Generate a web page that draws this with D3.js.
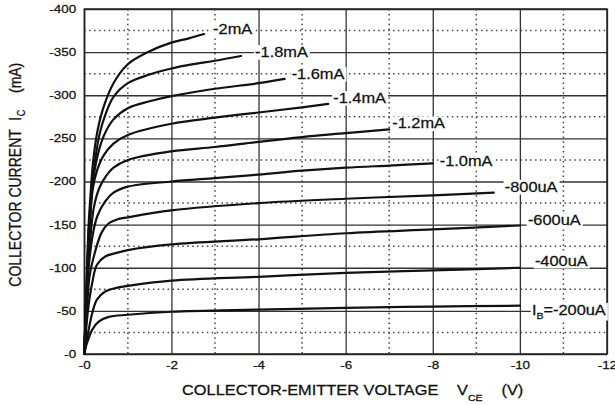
<!DOCTYPE html>
<html>
<head>
<meta charset="utf-8">
<script src="https://cdn.jsdelivr.net/npm/d3@7"></script>
<style>
  body { margin: 0; background: #fff; }
  text { font-family: "Liberation Sans", Arial, sans-serif; fill: #111; stroke: #111; stroke-width: 0.25px; }
</style>
</head>
<body>
<script>
// base current of each curve, top curve first
var baseCurrent = ["-2mA", "-1.8mA", "-1.6mA", "-1.4mA", "-1.2mA",
                   "-1.0mA", "-800uA", "-600uA", "-400uA", "-200uA"];

// [Vce (V), |Ic| (mA)] (Ic is negative on the chart)
var ib2000 = [[0,0],[-0.05,80],[-0.1,150],[-0.15,190],[-0.2,222],[-0.3,258],[-0.44,286],[-0.67,314],[-1,336],[-1.5,351],[-2,361],[-2.4,366],[-2.75,371]];
var ib1800 = [[0,0],[-0.05,75],[-0.1,140],[-0.17,190],[-0.25,225],[-0.33,250],[-0.44,271],[-0.67,298],[-1,314],[-1.5,324],[-2,331],[-2.5,336],[-3,340],[-3.6,345.5]];
var ib1600 = [[0,0],[-0.05,70],[-0.1,130],[-0.18,190],[-0.27,222],[-0.44,252],[-0.67,272],[-1,285],[-1.5,293],[-2,299],[-3,307.5],[-4,314],[-4.6,319]];
var ib1400 = [[0,0],[-0.05,65],[-0.1,120],[-0.19,190],[-0.3,214],[-0.44,230],[-0.67,244],[-1,254],[-2,267],[-3,274],[-4,280],[-5,286],[-5.6,290]];
var ib1200 = [[0,0],[-0.05,60],[-0.1,110],[-0.22,170],[-0.35,193],[-0.51,207],[-0.67,216],[-1,225],[-2,235],[-3,240],[-4,246],[-5,251.5],[-6,256],[-7,260.5]];
var ib1000 = [[0,0],[-0.05,55],[-0.1,100],[-0.2,140],[-0.3,160],[-0.48,177],[-0.67,187],[-1,194],[-2,200],[-3,204],[-4,208],[-5,212.5],[-6,216],[-7,218.5],[-8,221]];
var ib800  = [[0,0],[-0.06,50],[-0.12,90],[-0.25,119],[-0.4,141],[-0.55,151],[-0.75,156],[-1,158.5],[-2,166.5],[-4,175],[-6,180],[-8,184],[-9.4,187]];
var ib600  = [[0,0],[-0.085,51],[-0.18,82],[-0.29,103.5],[-0.48,113],[-0.72,117],[-1,120.5],[-2,127],[-4,133],[-6,140],[-8,144.5],[-10,149]];
var ib400  = [[0,0],[-0.085,24],[-0.18,47],[-0.29,63],[-0.48,72.5],[-0.72,76.5],[-1,79],[-2,85],[-4,89.5],[-6,94],[-8,97],[-10,100]];
var ib200  = [[0,0],[-0.04,9],[-0.085,16],[-0.18,28],[-0.33,37.5],[-0.56,43],[-1,45.5],[-2,49],[-4,51.5],[-6,53.5],[-8,55],[-10,56]];

var curves = [ib2000, ib1800, ib1600, ib1400, ib1200, ib1000, ib800, ib600, ib400, ib200];

// axis ticks (Ic given as magnitude, printed with a minus sign)
var vceTicks = [0, -2, -4, -6, -8, -10, -12];
var vceMinor = [-1, -3, -5, -7, -9, -11];
var icTicks = [0, 50, 100, 150, 200, 250, 300, 350, 400];
var icMinor = [25, 75, 125, 175, 225, 275, 325, 375];

// label nudge from the end of each curve, in px (layout only)
var labelNudge = [[9,-5],[14,-4],[7,-5],[5,-6],[3,-6],[7,-2],[11,-6],[8,-5],[15,-7],[12,4]];

var W = 615, H = 405;
var plotL = 84.3, plotR = 607, plotT = 9, plotB = 354;
var SX = 1.17; // the source glyphs are drawn wide

var svg = d3.select("body").append("svg")
    .attr("width", W)
    .attr("height", H);

var x = d3.scaleLinear().domain([0, -12]).range([plotL, plotR]);
var y = d3.scaleLinear().domain([0, 400]).range([plotB, plotT]);

var fmtV = function (d) { return d === 0 ? "-0" : String(d); };
var fmtI = function (d) { return "-" + d; };

// dotted minor grid
svg.append("g").selectAll("line").data(vceMinor).join("line")
    .attr("x1", x).attr("x2", x)
    .attr("y1", plotT).attr("y2", plotB)
    .attr("stroke", "#444").attr("stroke-width", 1.5)
    .attr("stroke-dasharray", "1.5,3.4");
svg.append("g").selectAll("line").data(icMinor).join("line")
    .attr("y1", y).attr("y2", y)
    .attr("x1", plotL).attr("x2", plotR)
    .attr("stroke", "#444").attr("stroke-width", 1.5)
    .attr("stroke-dasharray", "1.5,3.4");

// major grid + tick labels
var xAxis = svg.append("g")
    .attr("transform", "translate(0," + plotB + ")")
    .call(d3.axisBottom(x).tickValues(vceTicks).tickFormat(fmtV)
        .tickSizeInner(-(plotB - plotT)).tickSizeOuter(0).tickPadding(7));
var yAxis = svg.append("g")
    .attr("transform", "translate(" + plotL + ",0)")
    .call(d3.axisLeft(y).tickValues(icTicks).tickFormat(fmtI)
        .tickSizeInner(-(plotR - plotL)).tickSizeOuter(0).tickPadding(7));

[xAxis, yAxis].forEach(function (ax) {
    ax.select(".domain").remove();
    ax.selectAll("line").attr("stroke", "#333").attr("stroke-width", 1.3);
    ax.selectAll("text")
        .attr("font-size", "11.5px")
        .attr("font-family", "Liberation Sans, Arial, sans-serif")
        .attr("fill", "#111")
        .attr("transform", "scale(" + SX + ",1)");
});
yAxis.selectAll("text").attr("dy", "0.3em");

svg.append("rect")
    .attr("x", plotL).attr("y", plotT)
    .attr("width", plotR - plotL).attr("height", plotB - plotT)
    .attr("fill", "none").attr("stroke", "#222").attr("stroke-width", 1.5);

// curves
var line = d3.line()
    .x(function (d) { return x(d[0]); })
    .y(function (d) { return y(d[1]); })
    .curve(d3.curveCatmullRom.alpha(0.5));

svg.append("g").selectAll("path").data(curves).join("path")
    .attr("d", line)
    .attr("fill", "none")
    .attr("stroke", "#111")
    .attr("stroke-width", 2.2)
    .attr("stroke-linecap", "round")
    .attr("stroke-linejoin", "round");

// curve labels on white boxes
curves.forEach(function (c, i) {
    var end = c[c.length - 1];
    var lx = x(end[0]) + labelNudge[i][0];
    var ly = y(end[1]) + labelNudge[i][1];
    var g = svg.append("g")
        .attr("transform", "translate(" + lx + "," + ly + ") scale(" + SX + ",1)");
    var t = g.append("text").attr("font-size", "14px").attr("y", 5);
    if (i === curves.length - 1) {
        t.append("tspan").text("I");
        t.append("tspan").attr("font-size", "9px").attr("dy", 4).text("B");
        t.append("tspan").attr("dy", -4).text("=" + baseCurrent[i]);
    } else {
        t.text(baseCurrent[i]);
    }
    var bb = t.node().getBBox();
    g.insert("rect", "text")
        .attr("x", bb.x - 1).attr("y", bb.y + 1)
        .attr("width", bb.width + 2).attr("height", bb.height - 1)
        .attr("fill", "#fff").attr("stroke", "none");
});

// axis titles
function stretched(px, py) {
    return svg.append("g")
        .attr("transform", "translate(" + px + "," + py + ") scale(" + SX + ",1)")
        .append("text").attr("font-size", "14px");
}
stretched(182, 395).text("COLLECTOR-EMITTER VOLTAGE");
stretched(457, 395).text("V");
stretched(468, 401).attr("font-size", "9px").text("CE");
stretched(501.5, 395).text("(V)");

var yt = svg.append("g")
    .attr("transform", "translate(21,286.7) scale(" + SX + ",1) rotate(-90)")
    .append("text").attr("font-size", "14px");
yt.append("tspan").attr("x", 0).text("COLLECTOR CURRENT");
yt.append("tspan").attr("x", 166).text("I");
yt.append("tspan").attr("x", 170.5).attr("dy", 3).attr("font-size", "9px").text("C");
yt.append("tspan").attr("x", 193.7).attr("dy", -3).text("(mA)");
</script>
</body>
</html>
